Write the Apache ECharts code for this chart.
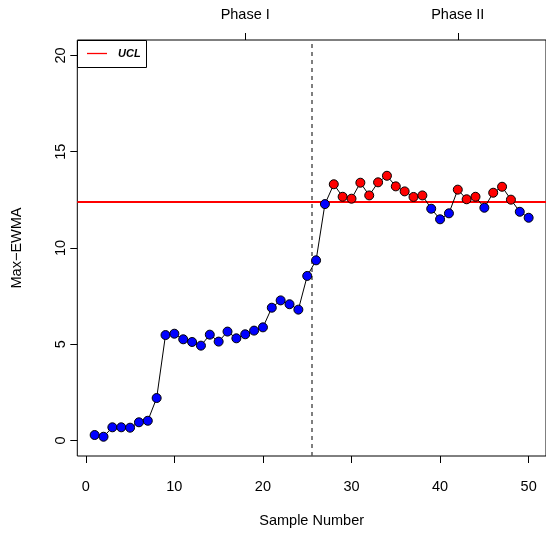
<!DOCTYPE html>
<html>
<head>
<meta charset="utf-8">
<script src="https://cdn.jsdelivr.net/npm/echarts@6/dist/echarts.min.js"></script>
<style>
html,body{margin:0;padding:0;background:#fff;}
#c{width:546px;height:533px;}
</style>
</head>
<body>
<div id="c"></div>
<script>
// Data
var samples = [];
for (var i = 1; i <= 50; i++) samples.push(i);
var maxEwma = [
  0.29, 0.20, 0.69, 0.69, 0.67, 0.95, 1.03, 2.21, 5.48, 5.55,
  5.26, 5.12, 4.93, 5.50, 5.14, 5.66, 5.31, 5.52, 5.71, 5.88,
  6.90, 7.28, 7.08, 6.80, 8.55, 9.36, 12.28, 13.31, 12.66, 12.56,
  13.39, 12.73, 13.41, 13.75, 13.20, 12.94, 12.65, 12.73, 12.04, 11.49,
  11.80, 13.03, 12.53, 12.66, 12.09, 12.87, 13.18, 12.51, 11.88, 11.57
];
var ucl = 12.39;
var phaseSplit = 25.5;
var xTicks = [0, 10, 20, 30, 40, 50];
var yTicks = [0, 5, 10, 15, 20];
var phaseTicks = [18, 42];
var phaseLabels = ['Phase I', 'Phase II'];

var font = 'Liberation Sans, Arial, Helvetica, sans-serif';
var fs = 14.5;

var pts = samples.map(function (s, i) {
  var v = maxEwma[i];
  return {
    value: [s, v],
    itemStyle: { color: v > ucl ? '#ff0000' : '#0000ff', borderColor: '#000', borderWidth: 1 }
  };
});

var chart = echarts.init(document.getElementById('c'), null, { renderer: 'canvas' });
chart.setOption({
  animation: false,
  backgroundColor: '#fff',
  grid: {
    left: 77.3, top: 40, width: 471.4, height: 416,
    show: true, borderColor: '#000', borderWidth: 1, backgroundColor: 'transparent'
  },
  xAxis: [{
    type: 'value', position: 'bottom',
    min: -0.96, max: 51.96,
    axisLine: { show: false, onZero: false },
    splitLine: { show: false },
    axisTick: { show: true, inside: false, length: 7, lineStyle: { color: '#000' }, customValues: xTicks },
    axisLabel: { color: '#000', fontSize: fs, fontFamily: font, margin: 23, customValues: xTicks },
    name: 'Sample Number', nameLocation: 'middle', nameGap: 57,
    nameTextStyle: { color: '#000', fontSize: fs, fontFamily: font }
  }, {
    type: 'value', position: 'top',
    min: -0.96, max: 51.96,
    axisLine: { show: false, onZero: false },
    splitLine: { show: false },
    axisTick: { show: true, inside: false, length: 7, lineStyle: { color: '#000' }, customValues: phaseTicks },
    axisLabel: {
      color: '#000', fontSize: fs, fontFamily: font, margin: 18, customValues: phaseTicks,
      formatter: function (v) { var k = phaseTicks.indexOf(v); return k >= 0 ? phaseLabels[k] : ''; }
    }
  }],
  yAxis: {
    type: 'value',
    min: -0.8, max: 20.8,
    axisLine: { show: false, onZero: false },
    splitLine: { show: false },
    axisTick: { show: true, inside: false, length: 7, lineStyle: { color: '#000' }, customValues: yTicks },
    axisLabel: { color: '#000', fontSize: fs, fontFamily: font, margin: 9, rotate: 90, customValues: yTicks },
    name: 'Max\u2212EWMA', nameLocation: 'middle', nameGap: 53, nameRotate: 90,
    nameTextStyle: { color: '#000', fontSize: fs, fontFamily: font }
  },
  series: [{
    type: 'line',
    xAxisIndex: 0,
    data: pts,
    symbol: 'circle',
    symbolSize: 9,
    showAllSymbol: true,
    lineStyle: { color: '#000', width: 1 },
    z: 3,
    markLine: {
      silent: true,
      symbol: 'none',
      label: { show: false },
      z: 2,
      data: [
        { yAxis: ucl, lineStyle: { color: '#ff0000', width: 2, type: 'solid' } },
        { xAxis: phaseSplit, lineStyle: { color: '#555', width: 1.5, type: [4, 4] } }
      ]
    }
  }],
  graphic: [
    { type: 'rect', z: 10, shape: { x: 77.5, y: 40.5, width: 69, height: 27 }, style: { fill: '#fff', stroke: '#000', lineWidth: 1 } },
    { type: 'line', z: 11, shape: { x1: 87, y1: 53.5, x2: 107, y2: 53.5 }, style: { stroke: '#ff0000', lineWidth: 1.3 } },
    { type: 'text', z: 11, x: 118, y: 54, style: { text: 'UCL', fill: '#000', font: 'italic bold 11px ' + font, textVerticalAlign: 'middle' } }
  ]
});
</script>
</body>
</html>
